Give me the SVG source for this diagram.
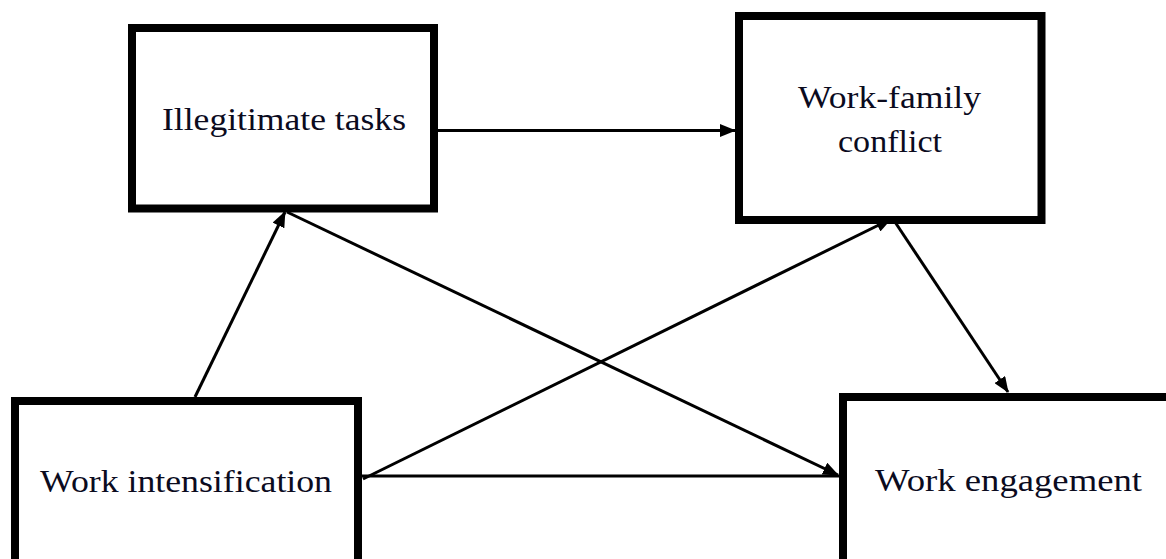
<svg xmlns="http://www.w3.org/2000/svg" width="1166" height="559" viewBox="0 0 1166 559">
<style>
.box{fill:#ffffff;stroke:#000000;stroke-width:8}
.lbl{font-family:"Liberation Serif","Times New Roman",serif;font-size:32px;fill:#0b0b1e}
.conn{stroke:#000000;stroke-width:3;fill:none}
</style>
<defs>
<marker id="arr" viewBox="0 0 16 13" refX="15" refY="6.5" markerWidth="16" markerHeight="13" markerUnits="userSpaceOnUse" orient="auto">
<path d="M0,0 L16,6.5 L0,13 Z" fill="#000000"/>
</marker>
</defs>
<rect width="1166" height="559" fill="#ffffff"/>
<g id="connectors">
<line class="conn" x1="437" y1="130.5" x2="735" y2="130.5" marker-end="url(#arr)"/>
<line class="conn" x1="195" y1="397" x2="285" y2="212" marker-end="url(#arr)"/>
<line class="conn" x1="287" y1="212" x2="838" y2="475" marker-end="url(#arr)"/>
<line class="conn" x1="363" y1="479" x2="891" y2="219" marker-end="url(#arr)"/>
<line class="conn" x1="893" y1="219" x2="1008" y2="392" marker-end="url(#arr)"/>
<line class="conn" x1="362" y1="476" x2="840" y2="476"/>
</g>
<g id="illegitimate-tasks">
<rect class="box" x="132" y="28" width="302" height="180.5"/>
<text class="lbl" x="162" y="130" textLength="244" lengthAdjust="spacingAndGlyphs">Illegitimate tasks</text>
</g>
<g id="work-family-conflict">
<rect class="box" x="739" y="16" width="302.5" height="204"/>
<text class="lbl" x="798" y="108" textLength="183" lengthAdjust="spacingAndGlyphs">Work-family</text>
<text class="lbl" x="838" y="152" textLength="104" lengthAdjust="spacingAndGlyphs">conflict</text>
</g>
<g id="work-intensification">
<rect class="box" x="15" y="401" width="343" height="175"/>
<text class="lbl" x="40" y="492" textLength="292" lengthAdjust="spacingAndGlyphs">Work intensification</text>
</g>
<g id="work-engagement">
<rect class="box" x="843" y="397" width="340" height="180"/>
<text class="lbl" x="875" y="491" textLength="267" lengthAdjust="spacingAndGlyphs">Work engagement</text>
</g>
</svg>
